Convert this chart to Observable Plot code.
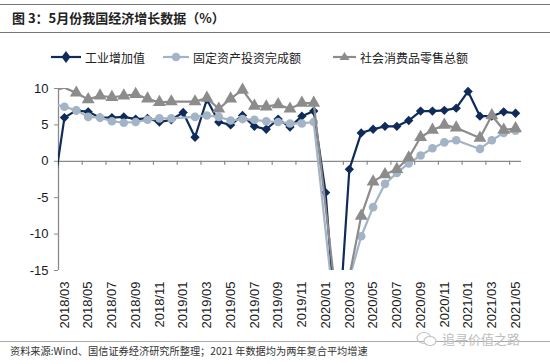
<!DOCTYPE html>
<html><head><meta charset="utf-8">
<script src="https://cdn.jsdelivr.net/npm/d3@7"></script>
<script src="https://cdn.jsdelivr.net/npm/@observablehq/plot@0.6"></script>
<style>
body{margin:0;background:#fff;}
#wrap{position:relative;width:550px;height:364px;overflow:hidden;font-family:"Noto Sans CJK SC","Liberation Sans",sans-serif;background:#fff;}
.rule{position:absolute;left:0;width:550px;height:0;}
#title{position:absolute;left:12px;top:8px;font-size:13px;font-weight:bold;color:#222;line-height:20px;white-space:nowrap;}
.leg{position:absolute;top:47px;height:20px;display:flex;align-items:center;font-size:12px;color:#222;white-space:nowrap;}
.leg svg{margin-right:4px;}
#chart{position:absolute;left:0;top:70px;}
#caption{position:absolute;left:10px;top:343px;font-size:10.2px;color:#333;white-space:nowrap;line-height:16px;}
#wm{position:absolute;left:416px;top:329px;font-size:13px;color:#bdbdbd;white-space:nowrap;display:flex;align-items:center;}
#wm svg{margin-right:4px;}
</style>
</head><body>
<div id="wrap">
  <div class="rule" style="top:4px;border-top:1px solid #777;"></div>
  <div id="title">图 3：5月份我国经济增长数据（%）</div>
  <div class="rule" style="top:32px;border-top:1px solid #777;"></div>
  <div id="legend"></div>
  <div id="chart"></div>
  <div class="rule" style="top:341px;border-top:1px solid #aaa;"></div>
  <div id="wm"><svg width="22" height="16"><ellipse cx="8" cy="7" rx="7" ry="5.5" fill="none" stroke="#c4c4c4" stroke-width="1.2"/><ellipse cx="14" cy="10" rx="6" ry="4.5" fill="#fff" stroke="#c4c4c4" stroke-width="1.2"/></svg><span>追寻价值之路</span></div>
  <div id="caption">资料来源:Wind、国信证券经济研究所整理；2021 年数据均为两年复合平均增速</div>
</div>
<script>
const months = ["2018/02","2018/03","2018/04","2018/05","2018/06","2018/07","2018/08","2018/09","2018/10","2018/11","2018/12",
"2019/01","2019/02","2019/03","2019/04","2019/05","2019/06","2019/07","2019/08","2019/09","2019/10","2019/11","2019/12",
"2020/01","2020/02","2020/03","2020/04","2020/05","2020/06","2020/07","2020/08","2020/09","2020/10","2020/11","2020/12",
"2021/01","2021/02","2021/03","2021/04","2021/05"];

const seriesNames = ["工业增加值","固定资产投资完成额","社会消费品零售总额"];

const industry = [-5.0, 6.0,7.0,6.8,6.0,6.0,6.1,5.8,5.9,5.4,5.7,
  6.7,3.3,8.5,5.4,5.0,6.3,4.8,4.4,5.8,4.7,6.2,6.9,
  -4.3,-25.9,-1.1,3.9,4.4,4.8,4.8,5.6,6.9,6.9,7.0,7.3,
  9.6,6.2,6.2,6.8,6.6];

const fai = [7.9, 7.5,7.0,6.1,6.0,5.5,5.3,5.4,5.7,5.9,5.9,
  null,6.1,6.3,6.1,5.6,5.8,5.7,5.5,5.4,5.2,5.2,5.4,
  null,-24.5,-16.1,-10.3,-6.3,-3.1,-1.6,-0.3,0.8,1.8,2.6,2.9,
  null,1.7,2.9,3.9,4.2];

const retail = [9.7, 10.1,9.4,8.5,9.0,8.8,9.0,9.2,8.6,8.1,8.2,
  null,8.2,8.7,7.2,8.6,9.8,7.6,7.5,7.8,7.2,8.0,8.0,
  null,-20.5,-15.8,-7.5,-2.8,-1.8,-1.1,0.5,3.3,4.3,5.0,4.6,
  null,3.2,6.3,4.3,4.5];

const xTickLabels = ["2018/03","2018/05","2018/07","2018/09","2018/11","2019/01","2019/03","2019/05","2019/07","2019/09","2019/11",
  "2020/01","2020/03","2020/05","2020/07","2020/09","2020/11","2021/01","2021/03","2021/05"];
const yTicks = [-15,-10,-5,0,5,10];

const colors = ["#0f2b59","#a3b4c6","#8c8c8c"];
const symbols = ["diamond2","circle","triangle"];
const radii = [4.2,4.3,4.8];

// build table
const seriesValues = [industry, fai, retail];
const rows = [];
seriesNames.forEach((s, k) => seriesValues[k].forEach((v, i) => {
  if (v != null) rows.push({series: s, k, m: i - 1, value: v});
}));

const xTicks = xTickLabels.map(l => months.indexOf(l) - 1);
const boundaries = xTicks.map(t => t - 0.5);
const xDomain = [-0.5, months.length - 1.5];
const yDomain = [d3.min(yTicks), d3.max(yTicks)];

const marks = [
  Plot.ruleY([0], {stroke: "#8a8a8a", strokeWidth: 1.3}),
  Plot.ruleX(boundaries, {x: d => d, y1: 0, y2: -0.55, stroke: "#8a8a8a", strokeWidth: 1.2}),
  Plot.ruleX([xDomain[0]], {y1: yDomain[0], y2: yDomain[1], stroke: "#8a8a8a", strokeWidth: 1.3}),
  Plot.axisY({ticks: yTicks, label: null, tickSize: 4, tickPadding: 6, stroke: "#8a8a8a", fill: "#1a1a1a", fontSize: 13, tickFormat: d => String(d)}),
  Plot.axisX({ticks: xTicks, label: null, tickSize: 0, tickPadding: 11, tickRotate: -90, fill: "#1a1a1a", fontSize: 13, tickFormat: m => months[m + 1]})
];
seriesNames.forEach((s, k) => {
  const data = rows.filter(d => d.k === k);
  marks.push(Plot.line(data, {x: "m", y: "value", stroke: colors[k], strokeWidth: 2.2, clip: true, curve: "linear"}));
  marks.push(Plot.dot(data.filter(d => d.m >= xDomain[0] && d.value >= yDomain[0] && d.value <= yDomain[1]),
    {x: "m", y: "value", symbol: () => symbols[k], fill: colors[k], stroke: "none", r: radii[k]}));
});

const chart = Plot.plot({
  width: 550, height: 270,
  marginLeft: 58, marginRight: 29, marginTop: 18, marginBottom: 70,
  x: {type: "linear", domain: xDomain, axis: null, label: null},
  y: {domain: yDomain, axis: null, label: null},
  symbol: {type: "identity"},
  style: {fontFamily: "'Liberation Sans', Arial, sans-serif", background: "transparent", overflow: "visible"},
  marks
});
document.getElementById("chart").appendChild(chart);

// legend
const legX = [{sx: 51, tx: 85}, {sx: 163, tx: 193}, {sx: 333, tx: 360}];
const leg = document.getElementById("legend");
seriesNames.forEach((s, k) => {
  const item = document.createElement("div");
  item.className = "leg";
  item.style.left = legX[k].sx + "px";
  const w = legX[k].tx - legX[k].sx - 4;
  const c = w / 2;
  let marker = "";
  if (k === 0) marker = `<path d="M${c},4 L${c+4.5},10 L${c},16 L${c-4.5},10 Z" fill="${colors[k]}"/>`;
  if (k === 1) marker = `<circle cx="${c}" cy="10" r="4.3" fill="${colors[k]}"/>`;
  if (k === 2) marker = `<path d="M${c},5 L${c+5},13 L${c-5},13 Z" fill="${colors[k]}"/>`;
  item.innerHTML = `<svg width="${w}" height="20"><line x1="0" x2="${w}" y1="10" y2="10" stroke="${colors[k]}" stroke-width="2.2"/>${marker}</svg><span>${s}</span>`;
  leg.appendChild(item);
});
</script>
</body></html>
